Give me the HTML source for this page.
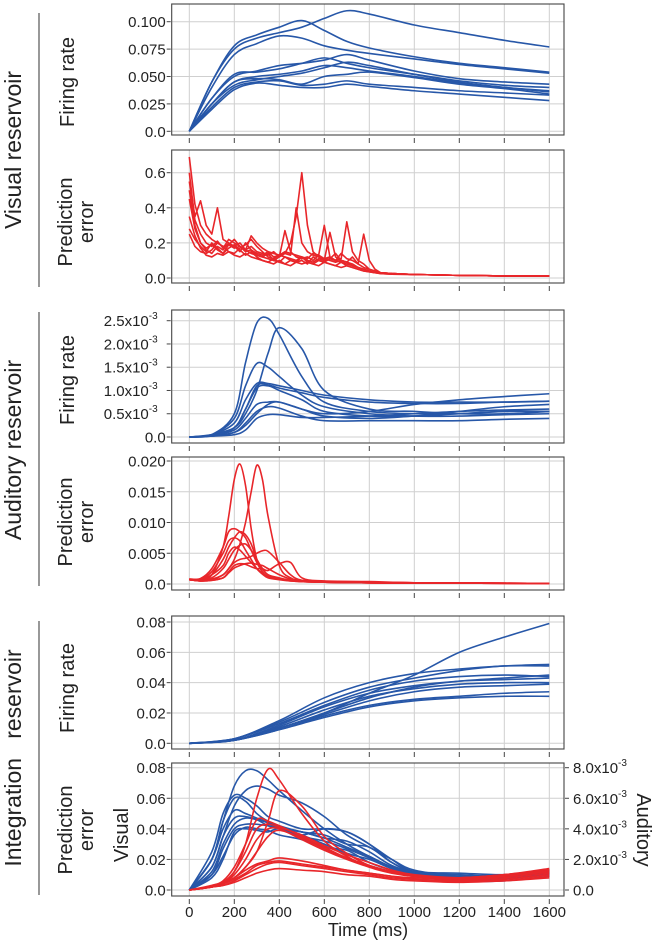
<!DOCTYPE html>
<html><head><meta charset="utf-8"><style>
body{margin:0;background:#fff}
svg{display:block;font-family:"Liberation Sans",sans-serif}
</style></head><body>
<svg id="fig" width="655" height="942" viewBox="0 0 655 942" xmlns="http://www.w3.org/2000/svg">
<g id="labels" fill="#222">
<line x1="39" y1="13" x2="39" y2="287" stroke="#555" stroke-width="1.2"/>
<line x1="39" y1="312" x2="39" y2="586" stroke="#555" stroke-width="1.2"/>
<line x1="39" y1="621" x2="39" y2="895" stroke="#555" stroke-width="1.2"/>
<text transform="translate(21,150) rotate(-90)" text-anchor="middle" font-size="23">Visual reservoir</text>
<text transform="translate(21,450) rotate(-90)" text-anchor="middle" font-size="23">Auditory reservoir</text>
<text transform="translate(21,758) rotate(-90)" text-anchor="middle" font-size="23" xml:space="preserve">Integration   reservoir</text>
<text transform="translate(74,82) rotate(-90)" text-anchor="middle" font-size="20">Firing rate</text>
<text transform="translate(72,222) rotate(-90)" text-anchor="middle" font-size="20">Prediction</text>
<text transform="translate(93,222) rotate(-90)" text-anchor="middle" font-size="20">error</text>
<text transform="translate(74,380) rotate(-90)" text-anchor="middle" font-size="20">Firing rate</text>
<text transform="translate(72,522) rotate(-90)" text-anchor="middle" font-size="20">Prediction</text>
<text transform="translate(93,522) rotate(-90)" text-anchor="middle" font-size="20">error</text>
<text transform="translate(74,688) rotate(-90)" text-anchor="middle" font-size="20">Firing rate</text>
<text transform="translate(72,830) rotate(-90)" text-anchor="middle" font-size="20">Prediction</text>
<text transform="translate(93,830) rotate(-90)" text-anchor="middle" font-size="20">error</text>
<text transform="translate(128,835) rotate(-90)" text-anchor="middle" font-size="20">Visual</text>
<text transform="translate(637,830) rotate(90)" text-anchor="middle" font-size="20">Auditory</text>
<text x="368" y="936" text-anchor="middle" font-size="18">Time (ms)</text>
</g>
</svg>
<script>
// ---- Panel 1: visual reservoir firing rate
const t1 = [0,100,200,300,400,500,600,700,800,1000,1200,1400,1600];
const vfr1 = [0,0.045,0.075,0.085,0.090,0.095,0.103,0.110,0.107,0.097,0.090,0.083,0.077];
const vfr2 = [0,0.045,0.078,0.088,0.095,0.101,0.092,0.082,0.076,0.068,0.062,0.058,0.054];
const vfr3 = [0,0.040,0.070,0.080,0.087,0.085,0.078,0.074,0.071,0.066,0.061,0.057,0.053];
const vfr4 = [0,0.030,0.050,0.055,0.060,0.062,0.065,0.070,0.065,0.055,0.048,0.045,0.043];
const vfr5 = [0,0.030,0.052,0.054,0.057,0.062,0.067,0.062,0.058,0.052,0.046,0.042,0.040];
const vfr6 = [0,0.025,0.045,0.050,0.052,0.055,0.060,0.058,0.055,0.050,0.044,0.040,0.037];
const vfr7 = [0,0.025,0.042,0.047,0.050,0.053,0.058,0.063,0.060,0.052,0.045,0.040,0.036];
const vfr8 = [0,0.025,0.045,0.048,0.047,0.043,0.050,0.052,0.054,0.049,0.043,0.039,0.034];
const vfr9 = [0,0.022,0.040,0.045,0.046,0.042,0.043,0.046,0.043,0.040,0.037,0.035,0.033];
const vfr10 = [0,0.020,0.038,0.044,0.042,0.040,0.040,0.043,0.041,0.037,0.034,0.031,0.028];
const ticks1 = [0,0.025,0.05,0.075,0.1];
const tickLabels1 = ["0.0","0.025","0.050","0.075","0.100"];

// ---- Panel 2: visual prediction error (noisy)
const t2 = [0,25,50,75,100,125,150,175,200,225,250,275,300,325,350,375,400,425,450,475,500,525,550,575,600,625,650,675,700,725,750,775,800,825,850,900,1000,1200,1400,1600];
const vpe1 = [0.69,0.42,0.30,0.25,0.22,0.20,0.18,0.19,0.17,0.18,0.15,0.16,0.14,0.13,0.15,0.12,0.13,0.14,0.20,0.35,0.60,0.30,0.15,0.12,0.10,0.11,0.10,0.09,0.08,0.07,0.06,0.05,0.04,0.03,0.03,0.025,0.02,0.015,0.012,0.012];
const vpe2 = [0.55,0.35,0.44,0.30,0.25,0.40,0.22,0.20,0.18,0.20,0.16,0.18,0.15,0.14,0.13,0.15,0.12,0.14,0.13,0.40,0.20,0.15,0.13,0.12,0.11,0.12,0.10,0.14,0.11,0.10,0.08,0.06,0.05,0.04,0.03,0.025,0.02,0.015,0.012,0.012];
const vpe3 = [0.28,0.22,0.18,0.15,0.20,0.17,0.14,0.19,0.22,0.18,0.16,0.24,0.20,0.17,0.15,0.14,0.13,0.15,0.14,0.13,0.12,0.11,0.14,0.13,0.30,0.12,0.10,0.11,0.32,0.15,0.10,0.08,0.05,0.04,0.03,0.025,0.02,0.015,0.012,0.012];
const vpe4 = [0.25,0.18,0.15,0.14,0.16,0.20,0.18,0.15,0.14,0.17,0.19,0.22,0.18,0.15,0.12,0.11,0.13,0.12,0.11,0.10,0.12,0.10,0.09,0.11,0.10,0.26,0.12,0.10,0.09,0.12,0.08,0.25,0.10,0.05,0.03,0.025,0.02,0.015,0.012,0.012];
const vpe5 = [0.50,0.30,0.20,0.16,0.14,0.18,0.16,0.20,0.18,0.15,0.20,0.16,0.13,0.12,0.14,0.10,0.12,0.27,0.15,0.12,0.11,0.12,0.10,0.13,0.11,0.10,0.09,0.10,0.09,0.07,0.06,0.05,0.04,0.03,0.03,0.025,0.02,0.015,0.012,0.012];
const vpe6 = [0.35,0.24,0.17,0.13,0.12,0.14,0.13,0.15,0.13,0.12,0.14,0.12,0.11,0.10,0.09,0.11,0.09,0.08,0.10,0.09,0.08,0.09,0.08,0.10,0.09,0.08,0.07,0.09,0.07,0.06,0.05,0.04,0.035,0.03,0.025,0.022,0.02,0.015,0.012,0.012];
const vpe7 = [0.45,0.28,0.20,0.17,0.19,0.16,0.14,0.17,0.19,0.16,0.13,0.15,0.12,0.10,0.09,0.08,0.10,0.08,0.07,0.09,0.10,0.08,0.12,0.10,0.09,0.11,0.14,0.10,0.09,0.08,0.06,0.05,0.04,0.03,0.03,0.025,0.02,0.015,0.012,0.012];
const vpe8 = [0.60,0.33,0.25,0.20,0.18,0.21,0.17,0.22,0.20,0.18,0.16,0.14,0.13,0.12,0.11,0.10,0.09,0.12,0.10,0.09,0.12,0.09,0.08,0.07,0.09,0.08,0.07,0.06,0.07,0.06,0.05,0.04,0.035,0.03,0.025,0.022,0.02,0.015,0.012,0.012];
const ticks2 = [0,0.2,0.4,0.6];
const tickLabels2 = ["0.0","0.2","0.4","0.6"];

// ---- Panel 3: auditory firing rate (x10^-3)
const t3 = [0,100,200,250,300,350,400,500,600,800,1000,1200,1400,1600];
const afr1 = [0,0.05,0.5,1.6,2.45,2.55,2.2,1.3,0.75,0.55,0.5,0.5,0.55,0.55];
const afr2 = [0,0.05,0.2,0.5,1.0,1.8,2.35,1.9,1.0,0.6,0.55,0.5,0.5,0.55];
const afr3 = [0,0.05,0.4,1.1,1.58,1.5,1.3,0.9,0.65,0.5,0.45,0.45,0.48,0.5];
const afr4 = [0,0.05,0.3,0.8,1.15,1.15,1.1,1.0,0.9,0.8,0.75,0.75,0.75,0.77];
const afr5 = [0,0.03,0.2,0.6,1.1,1.12,1.05,0.95,0.85,0.75,0.72,0.72,0.75,0.77];
const afr6 = [0,0.03,0.2,0.6,1.05,1.1,1.0,0.8,0.55,0.45,0.45,0.55,0.65,0.7];
const afr7 = [0,0.03,0.15,0.4,0.7,0.75,0.75,0.6,0.5,0.55,0.7,0.8,0.87,0.93];
const afr8 = [0,0.02,0.1,0.25,0.5,0.7,0.75,0.6,0.45,0.4,0.45,0.5,0.55,0.55];
const afr9 = [0,0.02,0.1,0.3,0.55,0.65,0.62,0.45,0.35,0.35,0.35,0.35,0.38,0.4];
const afr10 = [0,0.02,0.05,0.15,0.4,0.48,0.48,0.42,0.42,0.45,0.5,0.55,0.58,0.6];
const ticks3 = [0,0.5,1.0,1.5,2.0,2.5];
const tickLabels3 = ["0.0","0.5x10","1.0x10","1.5x10","2.0x10","2.5x10"];

// ---- Panel 4: auditory prediction error (x10^-3)
const t4 = [0,50,100,150,175,200,225,250,275,300,325,350,400,450,500,600,800,1000,1600];
const ape1 = [0.7,0.6,1.5,6,11,17,19.5,16,9,4,2,1.2,0.8,0.6,0.5,0.3,0.2,0.15,0.1];
const ape2 = [0.7,0.5,0.8,1.5,2.5,4,6.5,10,15,19.3,17,11,3,1,0.6,0.4,0.3,0.2,0.1];
const ape3 = [0.8,0.9,2.5,6,8.5,9,8.5,7.5,5.5,3.5,2,1.2,0.8,0.5,0.4,0.3,0.2,0.15,0.1];
const ape4 = [0.7,0.7,1.5,4,6,7.5,8.5,8,6.5,4,2.5,1.5,1,0.6,0.4,0.3,0.2,0.15,0.1];
const ape5 = [0.7,0.8,2,5,7,7.5,7,5.5,4,2.5,1.6,1,0.7,0.5,0.4,0.3,0.2,0.15,0.1];
const ape6 = [0.7,0.6,1,2.5,4,5.5,6.3,6.5,5.5,4,2.5,1.5,0.9,0.6,0.4,0.3,0.2,0.15,0.1];
const ape7 = [0.7,0.5,0.7,1.5,2.5,3.5,4,4.2,4.5,5,5.4,5.3,3.5,1.5,0.6,0.4,0.3,0.2,0.1];
const ape8 = [0.7,0.5,0.6,1,2,3,3.3,3.2,2.8,2.5,2.5,2.2,3.3,3.5,1,0.5,0.4,0.2,0.1];
const ape9 = [0.7,0.5,0.6,1,1.8,2.6,3,3.3,3.4,3.2,3,2.5,1.5,0.8,0.5,0.4,0.3,0.2,0.1];
const ape10 = [0.8,0.8,1.5,3,5,6,5.5,4.5,3.5,2.5,1.8,1.2,0.8,0.6,0.4,0.3,0.2,0.15,0.1];
const ticks4 = [0,5,10,15,20];
const tickLabels4 = ["0.0","0.005","0.010","0.015","0.020"];

// ---- Panel 5: integration firing rate
const t5 = [0,200,400,600,800,1000,1200,1400,1600];
const ifr1 = [0,0.002,0.010,0.020,0.033,0.045,0.060,0.070,0.079];
const ifr2 = [0,0.003,0.015,0.030,0.040,0.046,0.049,0.051,0.052];
const ifr3 = [0,0.003,0.014,0.027,0.037,0.043,0.048,0.051,0.051];
const ifr4 = [0,0.003,0.013,0.025,0.035,0.041,0.044,0.045,0.044];
const ifr5 = [0,0.002,0.012,0.024,0.033,0.038,0.041,0.042,0.043];
const ifr6 = [0,0.002,0.011,0.022,0.031,0.036,0.039,0.040,0.040];
const ifr7 = [0,0.002,0.010,0.019,0.028,0.034,0.037,0.038,0.039];
const ifr8 = [0,0.002,0.009,0.018,0.025,0.029,0.031,0.033,0.034];
const ifr9 = [0,0.002,0.009,0.017,0.024,0.028,0.030,0.031,0.031];
const ifr10 = [0,0.002,0.010,0.020,0.030,0.037,0.041,0.043,0.045];
const ticks5 = [0,0.02,0.04,0.06,0.08];
const tickLabels5 = ["0.0","0.02","0.04","0.06","0.08"];

// ---- Panel 6: integration prediction error (visual left axis, auditory right axis x10^-3)
const t6 = [0,100,150,200,250,300,350,400,500,600,700,800,900,1000,1200,1400,1600];
const ipv1 = [0,0.02,0.045,0.068,0.078,0.078,0.072,0.065,0.052,0.040,0.030,0.022,0.015,0.011,0.008,0.009,0.012];
const ipv2 = [0,0.015,0.035,0.055,0.065,0.068,0.066,0.062,0.057,0.048,0.036,0.028,0.020,0.013,0.009,0.008,0.010];
const ipv3 = [0,0.025,0.05,0.062,0.060,0.055,0.048,0.045,0.040,0.040,0.038,0.030,0.020,0.012,0.010,0.009,0.011];
const ipv4 = [0,0.02,0.045,0.060,0.058,0.050,0.045,0.042,0.038,0.036,0.030,0.028,0.018,0.012,0.011,0.010,0.012];
const ipv5 = [0,0.02,0.04,0.052,0.050,0.047,0.044,0.040,0.038,0.034,0.032,0.025,0.016,0.012,0.009,0.010,0.013];
const ipv6 = [0,0.015,0.035,0.047,0.048,0.046,0.042,0.040,0.036,0.040,0.038,0.030,0.018,0.012,0.008,0.009,0.011];
const ipv7 = [0,0.012,0.03,0.043,0.047,0.046,0.044,0.041,0.038,0.034,0.028,0.022,0.015,0.011,0.009,0.008,0.010];
const ipv8 = [0,0.01,0.027,0.040,0.043,0.043,0.042,0.041,0.036,0.030,0.024,0.020,0.014,0.010,0.006,0.006,0.009];
const ipv9 = [0,0.01,0.022,0.036,0.041,0.040,0.039,0.036,0.033,0.028,0.026,0.018,0.013,0.010,0.007,0.008,0.011];
const ipv10 = [0,0.008,0.02,0.038,0.040,0.039,0.038,0.040,0.035,0.032,0.027,0.021,0.015,0.012,0.006,0.007,0.012];
const ipa1 = [0,0.2,0.5,1.2,3,6,7.9,7.2,5,3.2,2.2,1.5,1.1,0.9,0.8,1.0,1.3];
const ipa2 = [0,0.2,0.4,0.8,1.5,2.5,4.5,6.5,5.5,3.5,2.4,1.6,1.2,0.9,0.8,1.0,1.3];
const ipa3 = [0,0.3,0.6,1.5,3,4.6,4.5,4.2,3.5,2.8,2.1,1.6,1.2,0.9,0.8,0.9,1.2];
const ipa4 = [0,0.2,0.5,1.2,2.5,4.0,4.3,4.1,3.6,2.9,2.3,1.8,1.3,1.0,0.8,0.9,1.3];
const ipa5 = [0,0.2,0.4,1,2,3.3,4.0,4.0,3.3,2.6,2,1.5,1.2,0.9,0.7,0.9,1.2];
const ipa6 = [0,0.2,0.4,0.8,1.5,2.5,3.5,3.9,3.4,2.7,2.1,1.6,1.2,0.9,0.8,1.0,1.4];
const ipa7 = [0,0.2,0.4,0.8,1.3,1.7,1.9,2.1,1.9,1.6,1.3,1.1,0.9,0.8,0.7,0.8,1.1];
const ipa8 = [0,0.2,0.4,0.7,1.1,1.6,1.8,1.9,1.7,1.5,1.3,1.1,0.9,0.7,0.6,0.7,1.0];
const ipa9 = [0,0.2,0.3,0.6,1,1.4,1.7,1.8,1.6,1.4,1.2,1.0,0.8,0.7,0.6,0.6,0.9];
const ipa10 = [0,0.2,0.3,0.5,0.8,1.1,1.3,1.4,1.3,1.2,1.0,0.9,0.7,0.6,0.5,0.6,0.8];
const ticks6 = [0,0.02,0.04,0.06,0.08];
const tickLabels6 = ["0.0","0.02","0.04","0.06","0.08"];
const ticks6r = [0,2,4,6,8];
const tickLabels6r = ["0.0","2.0x10","4.0x10","6.0x10","8.0x10"];

const xTicks = [0,200,400,600,800,1000,1200,1400,1600];

const NS = "http://www.w3.org/2000/svg";
const svg = document.getElementById("fig");
const BLUE = "#2757a8", RED = "#e8262a";
const FL = 171.7, FR = 564;
function xs(t){ return 189.3 + t * (360/1600); }

function mk(tag, attrs, parent){
  const e = document.createElementNS(NS, tag);
  for (const k in attrs) e.setAttribute(k, attrs[k]);
  (parent||svg).appendChild(e);
  return e;
}
function smoothPath(pts){
  let d = "M" + pts[0][0].toFixed(2) + "," + pts[0][1].toFixed(2);
  for (let i=0;i<pts.length-1;i++){
    const p0 = pts[Math.max(0,i-1)], p1 = pts[i], p2 = pts[i+1], p3 = pts[Math.min(pts.length-1,i+2)];
    const k = 1/6;
    const c1x = p1[0] + (p2[0]-p0[0])*k, c1y = p1[1] + (p2[1]-p0[1])*k;
    const c2x = p2[0] - (p3[0]-p1[0])*k, c2y = p2[1] - (p3[1]-p1[1])*k;
    d += "C" + c1x.toFixed(2)+","+c1y.toFixed(2)+" "+c2x.toFixed(2)+","+c2y.toFixed(2)+" "+p2[0].toFixed(2)+","+p2[1].toFixed(2);
  }
  return d;
}
function linePath(pts){
  return pts.map((p,i)=>(i?"L":"M")+p[0].toFixed(2)+","+p[1].toFixed(2)).join("");
}

function panel(name, top, bottom, y0px, yMaxPx, yMaxVal, ticks, labels, sup, xLabels){
  const g = mk("g", {});
  
  
  const ys = v => y0px + (yMaxPx - y0px) * v / yMaxVal;
  xTicks.forEach(t=>{
    const l = mk("line",{x1:xs(t),x2:xs(t),y1:top,y2:bottom,stroke:"#cfcfcf","stroke-width":1},g);
    
    
    const tk = mk("line",{x1:xs(t),x2:xs(t),y1:bottom+3,y2:bottom+8,stroke:"#444","stroke-width":1},g);
    
    
  });
  ticks.forEach((v,i)=>{
    const y = ys(v);
    const l = mk("line",{x1:FL,x2:FR,y1:y,y2:y,stroke:"#cfcfcf","stroke-width":1},g);
    
    
    const tk = mk("line",{x1:FL-5,x2:FL-1,y1:y,y2:y,stroke:"#444","stroke-width":1},g);
    
    
    const tx = mk("text",{x:FL-6,y:y+5.5,"text-anchor":"end","font-size":15,fill:"#222"},g);
    
    
    tx.textContent = labels[i];
    if (sup && i>0){
      tx.setAttribute("x", FL-14);
      const s = mk("tspan",{"font-size":10,dy:-7},tx);
      s.textContent = "-3";
    }
  });
  if (xLabels){
    xTicks.forEach(t=>{
      const tx = mk("text",{x:xs(t),y:bottom+21,"text-anchor":"middle","font-size":15,fill:"#222"},g);
      
      
      tx.textContent = String(t);
    });
  }
  return {g, ys};
}
function frame(g, top, bottom, name){
  const r = mk("rect",{x:FL,y:top,width:FR-FL,height:bottom-top,fill:"none",stroke:"#444","stroke-width":1.1},g);
  
  
}
function drawSeries(g, ts, vals, ys, color, smooth, name){
  const pts = ts.map((t,i)=>[xs(t), ys(vals[i])]);
  const p = mk("path",{d: smooth?smoothPath(pts):linePath(pts), fill:"none", stroke:color, "stroke-width":1.6, "stroke-linejoin":"round"},g);
  
  
}

let P = panel("visual-firing-rate-panel", 4, 135, 131.3, 21.7, 0.1, ticks1, tickLabels1, false, false);
[vfr1,vfr2,vfr3,vfr4,vfr5,vfr6,vfr7,vfr8,vfr9,vfr10].forEach((s,i)=>drawSeries(P.g,t1,s,P.ys,BLUE,true,"visual-firing-rate-line-"+(i+1)));
frame(P.g,4,135,"visual-firing-rate-frame");
P = panel("visual-prediction-error-panel", 150, 283, 278, 172.7, 0.6, ticks2, tickLabels2, false, false);
[vpe1,vpe2,vpe3,vpe4,vpe5,vpe6,vpe7,vpe8].forEach((s,i)=>drawSeries(P.g,t2,s,P.ys,RED,false,"visual-prediction-error-line-"+(i+1)));
frame(P.g,150,283,"visual-prediction-error-frame");
P = panel("auditory-firing-rate-panel", 310, 443, 437, 320.7, 2.5, ticks3, tickLabels3, true, false);
[afr1,afr2,afr3,afr4,afr5,afr6,afr7,afr8,afr9,afr10].forEach((s,i)=>drawSeries(P.g,t3,s,P.ys,BLUE,true,"auditory-firing-rate-line-"+(i+1)));
frame(P.g,310,443,"auditory-firing-rate-frame");
P = panel("auditory-prediction-error-panel", 457, 590, 584, 461, 20, ticks4, tickLabels4, false, false);
[ape1,ape2,ape3,ape4,ape5,ape6,ape7,ape8,ape9,ape10].forEach((s,i)=>drawSeries(P.g,t4,s,P.ys,RED,true,"auditory-prediction-error-line-"+(i+1)));
frame(P.g,457,590,"auditory-prediction-error-frame");
P = panel("integration-firing-rate-panel", 616, 749, 743.3, 622, 0.08, ticks5, tickLabels5, false, false);
[ifr1,ifr2,ifr3,ifr4,ifr5,ifr6,ifr7,ifr8,ifr9,ifr10].forEach((s,i)=>drawSeries(P.g,t5,s,P.ys,BLUE,true,"integration-firing-rate-line-"+(i+1)));
frame(P.g,616,749,"integration-firing-rate-frame");
P = panel("integration-prediction-error-panel", 763, 896, 890, 767.7, 0.08, ticks6, tickLabels6, false, true);
const ysR = v => 890 + (767.7-890) * v / 8;
[ipv1,ipv2,ipv3,ipv4,ipv5,ipv6,ipv7,ipv8,ipv9,ipv10].forEach((s,i)=>drawSeries(P.g,t6,s,P.ys,BLUE,true,"integration-visual-error-line-"+(i+1)));
[ipa1,ipa2,ipa3,ipa4,ipa5,ipa6,ipa7,ipa8,ipa9,ipa10].forEach((s,i)=>drawSeries(P.g,t6,s,ysR,RED,true,"integration-auditory-error-line-"+(i+1)));
ticks6r.forEach((v,i)=>{
  const y = ysR(v);
  const tk = mk("line",{x1:FR+1,x2:FR+5,y1:y,y2:y,stroke:"#444","stroke-width":1},P.g);
  
  
  const tx = mk("text",{x:FR+9,y:y+5.5,"font-size":15,fill:"#222"},P.g);
  
  
  tx.textContent = tickLabels6r[i];
  if (i>0){ const s = mk("tspan",{"font-size":10,dy:-7},tx); s.textContent = "-3"; }
});
frame(P.g,763,896,"integration-prediction-error-frame");
</script>
</body></html>
